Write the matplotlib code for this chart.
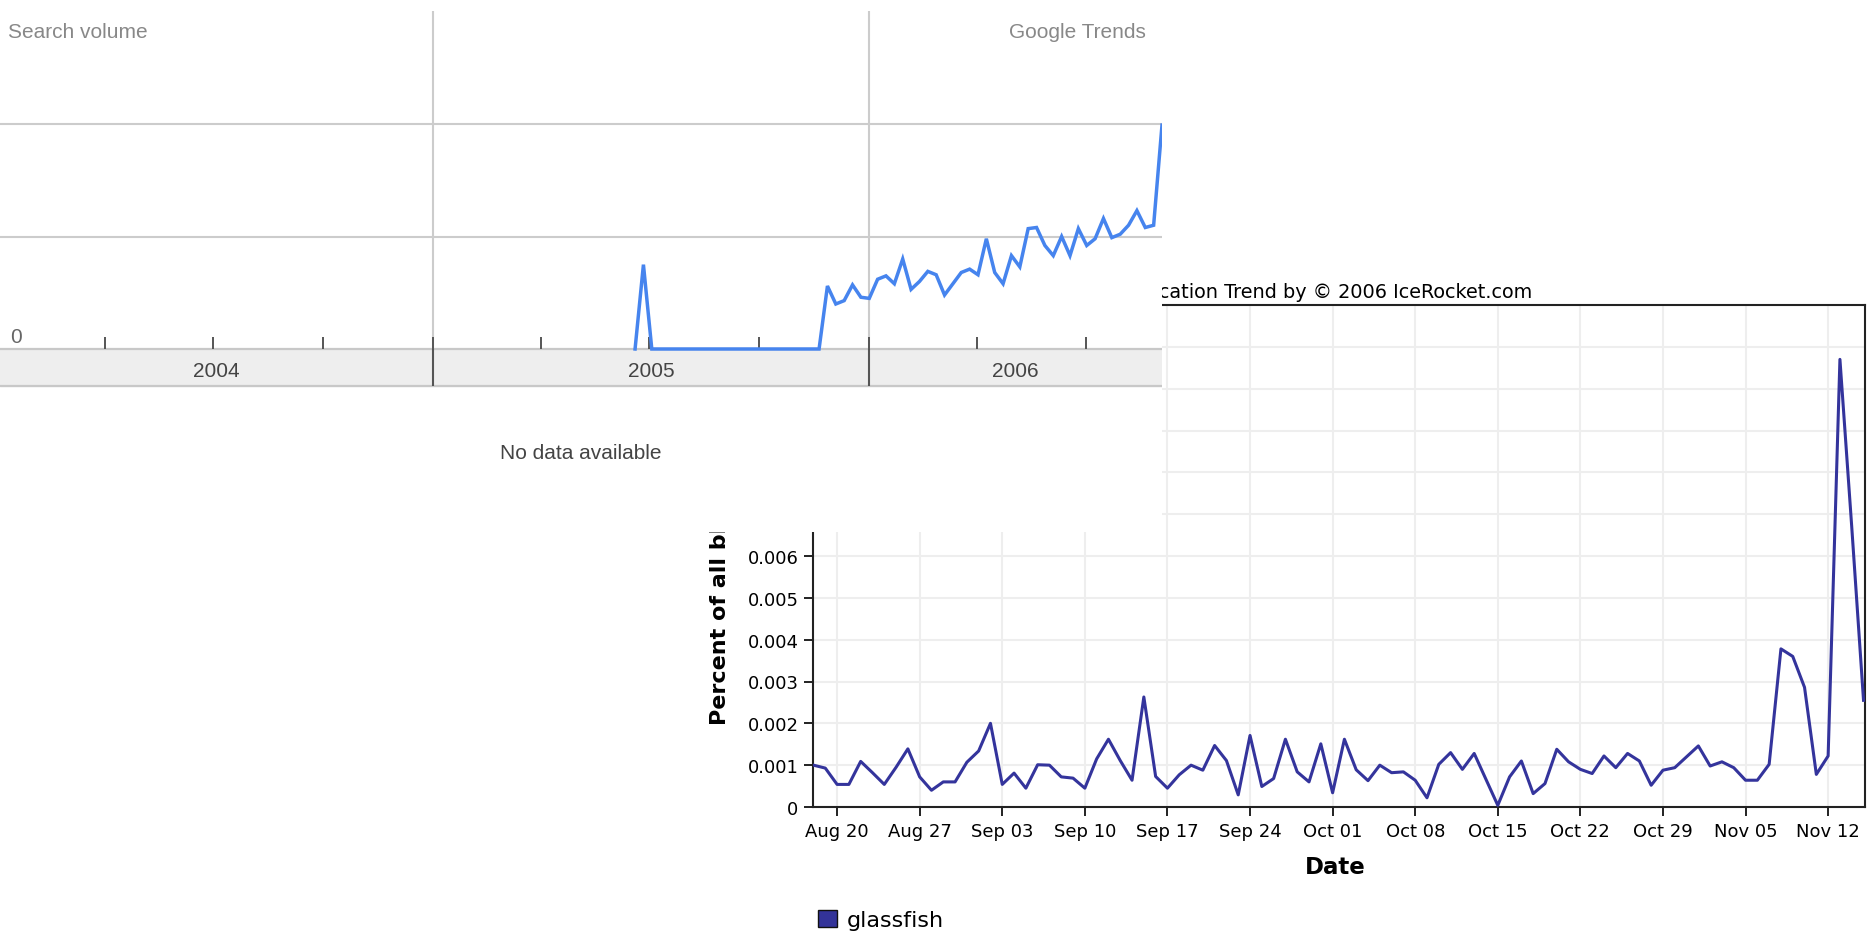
import matplotlib
matplotlib.use('Agg')
import pandas as pd
import matplotlib.pyplot as plt
import matplotlib.dates as mdates
from matplotlib.patches import Patch
from matplotlib.ticker import FuncFormatter, MultipleLocator

W, H = 1872, 937

# Google Trends, weekly search volume (1 = first gridline)
trends_start = '2005-06-19'
trends_values = [0, 0.75] + [0] * 21 + [
    0.56, 0.40, 0.43, 0.57, 0.46, 0.45, 0.62, 0.65, 0.58, 0.80,
    0.53, 0.60, 0.69, 0.66, 0.48, 0.58, 0.68, 0.71, 0.66, 0.98,
    0.68, 0.58, 0.83, 0.73, 1.07, 1.08, 0.92, 0.83, 1.00, 0.83,
    1.07, 0.92, 0.98, 1.16, 0.99, 1.02, 1.10, 1.23, 1.08, 1.10,
    1.99]
trend_years = ['2004', '2005', '2006']

# IceRocket, daily percent of all blog posts
ice_start = '2006-08-18'
ice_values = [
    0.00100, 0.00093, 0.00054, 0.00054, 0.00109, 0.00082, 0.00054,
    0.00095, 0.00139, 0.00072, 0.00040, 0.00060, 0.00060, 0.00107,
    0.00134, 0.00200, 0.00054, 0.00081, 0.00045, 0.00101, 0.00100,
    0.00072, 0.00069, 0.00045, 0.00115, 0.00162, 0.00111, 0.00064,
    0.00263, 0.00073, 0.00045, 0.00077, 0.00100, 0.00088, 0.00147,
    0.00111, 0.00029, 0.00171, 0.00049, 0.00068, 0.00162, 0.00084,
    0.00060, 0.00151, 0.00034, 0.00162, 0.00089, 0.00063, 0.00100,
    0.00082, 0.00084, 0.00064, 0.00022, 0.00102, 0.00130, 0.00090,
    0.00128, 0.00066, 0.00004, 0.00072, 0.00110, 0.00032, 0.00056,
    0.00138, 0.00108, 0.00090, 0.00080, 0.00122, 0.00094, 0.00128,
    0.00110, 0.00052, 0.00088, 0.00094, 0.00120, 0.00146, 0.00098,
    0.00108, 0.00094, 0.00064, 0.00064, 0.00102, 0.00378, 0.00360,
    0.00286, 0.00078, 0.00122, 0.01070, 0.00670, 0.00255]
ice_label = 'glassfish'

fig = plt.figure(figsize=(W / 100, H / 100), dpi=100)


def px_axes(x0, y0, x1, y1, **kw):
    return fig.add_axes([x0 / W, 1 - y1 / H, (x1 - x0) / W, (y1 - y0) / H], **kw)


# ---------------- IceRocket chart (underneath) ----------------
ax = px_axes(813, 306, 1865, 808, zorder=1)
ice_dates = pd.date_range(ice_start, periods=len(ice_values), freq='D')
ax.plot(ice_dates, ice_values, color='#34349c', lw=2.2, zorder=3)
ax.set_xlim(pd.Timestamp('2006-08-17 23:00'), pd.Timestamp('2006-11-15 03:00'))
ax.set_ylim(0, 0.012)
ax.xaxis.set_major_locator(mdates.WeekdayLocator(byweekday=mdates.SU))
ax.xaxis.set_major_formatter(mdates.DateFormatter('%b %d'))
ax.yaxis.set_major_locator(MultipleLocator(0.001))
ax.yaxis.set_major_formatter(FuncFormatter(lambda v, p: '0' if abs(v) < 1e-9 else f'{v:.3f}'))
ax.grid(color='#eeeeee', lw=1.5)
ax.set_axisbelow(True)
ax.tick_params(direction='out', length=6.5, width=1.4, color='#222222',
               labelsize=13, pad=4)
for s in ax.spines.values():
    s.set_color('#222222')
    s.set_linewidth(1.5)
ax.text(0.6835, 1.026, 'Blog Publication Trend by \u00a9 2006 IceRocket.com',
        transform=ax.transAxes, ha='right', va='center', fontsize=13.9)
ax.text(-0.0884, 0.165, 'Percent of all blog posts', transform=ax.transAxes,
        rotation=90, ha='center', va='bottom', fontsize=16, fontweight='bold')
ax.text(0.496, -0.1195, 'Date', transform=ax.transAxes, ha='center', va='center',
        fontsize=16.5, fontweight='bold')
ax.legend(handles=[Patch(facecolor='#333399', edgecolor='#111111', label=ice_label)],
          loc='center left', bbox_to_anchor=(818 / W, 1 - 921 / H),
          bbox_transform=fig.transFigure, frameon=False, fontsize=16,
          handlelength=0.85, handleheight=0.85, handletextpad=0.45,
          borderpad=0, borderaxespad=0)

# ---------------- Google Trends chart (on top) ----------------
gt = px_axes(0, 0, 1162, 533, zorder=5)
gt.set_facecolor('white')
gt.set_xlim(pd.Timestamp('2004-01-04 12:00'), pd.Timestamp('2006-09-03'))
gt.set_ylim((350 - 533) / 112.5, 350 / 112.5)
gt.set_xticks([])
gt.set_yticks([])
for s in gt.spines.values():
    s.set_visible(False)

band = -37 / 112.5
year_starts = pd.to_datetime(['2005-01-01', '2006-01-01'])
gt.axhspan(band, 0, color='#eeeeee', zorder=1)
gt.axhline(0, color='#c8c8c8', lw=1.6, zorder=2)
gt.axhline(band, color='#c8c8c8', lw=1.6, zorder=2)
for level in [1, 2]:
    gt.axhline(level, color='#cccccc', lw=1.5, zorder=2)
gt.vlines(year_starts, 0, (350 - 12) / 112.5, color='#cccccc', lw=1.5, zorder=2)
gt.vlines(year_starts, band, 0, color='#555555', lw=1.5, zorder=3)
quarters = pd.date_range('2004-04-01', '2006-09-01', freq='QS')
gt.vlines(quarters, 0, 12 / 112.5, color='#555555', lw=1.4, zorder=3)

x0, x1 = gt.get_xlim()
bounds = [x0] + list(mdates.date2num(year_starts)) + [x1]
for i, label in enumerate(trend_years):
    gt.text((bounds[i] + bounds[i + 1]) / 2, -22 / 112.5, label, ha='center',
            va='center', fontsize=15, color='#444444', family='Liberation Sans')

trend_dates = pd.date_range(trends_start, periods=len(trends_values), freq='7D')
gt.plot(trend_dates, trends_values, color='#4684ee', lw=2.5, zorder=4,
        solid_joinstyle='miter')

gt.text(8 / 1162, (533 - 33) / 533, 'Search volume', transform=gt.transAxes,
        ha='left', va='center', fontsize=15, color='#888888', family='Liberation Sans')
gt.text(1146 / 1162, (533 - 33) / 533, 'Google Trends', transform=gt.transAxes,
        ha='right', va='center', fontsize=15, color='#888888', family='Liberation Sans')
gt.text(10 / 1162, (533 - 338) / 533, '0', transform=gt.transAxes,
        ha='left', va='center', fontsize=15, color='#666666', family='Liberation Sans')
gt.text(0.5, (533 - 454) / 533, 'No data available', transform=gt.transAxes,
        ha='center', va='center', fontsize=15, color='#444444', family='Liberation Sans')

fig.savefig('out.png', dpi=100)
